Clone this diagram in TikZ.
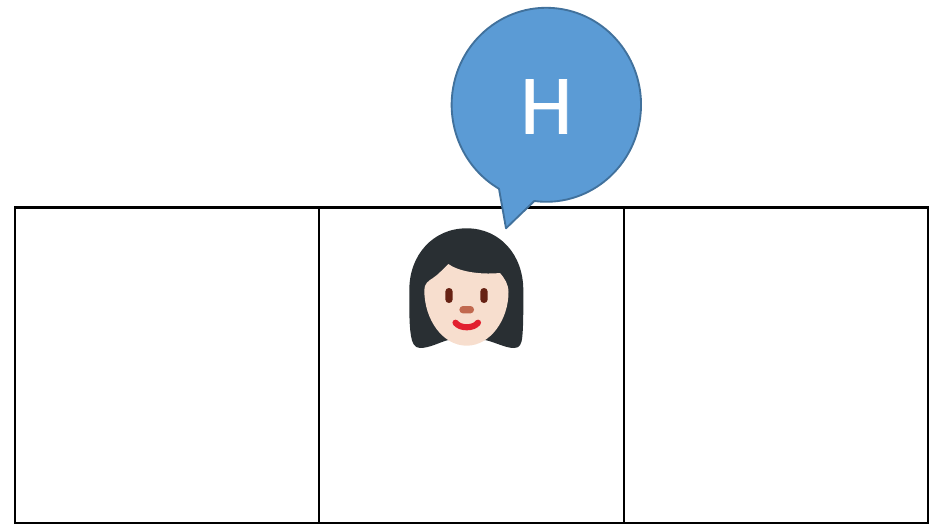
\documentclass[tikz,border=0pt]{standalone}
\usepackage{fontspec}
\newfontfamily\bubblefont{Carlito}[FakeBold=0.8]
\definecolor{bubblefill}{HTML}{5B9BD5}
\definecolor{bubbleline}{HTML}{41719C}
\definecolor{hair}{HTML}{292F33}
\definecolor{skin}{HTML}{F7DECE}
\definecolor{eye}{HTML}{662113}
\definecolor{nose}{HTML}{C1694F}
\definecolor{mouth}{HTML}{E2202F}
\begin{document}
\begin{tikzpicture}[x=.75pt,y=.75pt,line width=1.6pt]
\useasboundingbox (0,-524) rectangle (939,0);
% cells
\coordinate (A) at (15.2,-207.5); \coordinate (B) at (928.2,-523);
\draw (A) rectangle (B);
\foreach \x in {319.2,623.7} \draw (\x,-207.5)--(\x,-523);
% speech bubble
\draw[fill=bubblefill,draw=bubbleline,line width=1.4pt,line join=round] (534.3,-201) arc[start angle=-97.3,end angle=240,x radius=94.7,y radius=97]--(506,-228.3)--cycle;
\node[white,font=\bubblefont\fontsize{63}{63}\selectfont,inner sep=0pt] (H) at (546.3,-106.5) {H};
% head
\fill[hair] (466.7,-228.3) .. controls (500,-228.3) and (523.3,-255) .. (523.3,-290) .. controls (523.3,-305) and (523.5,-325) .. (522.3,-336.7) .. controls (521.5,-344) and (520,-348) .. (514,-348) .. controls (505,-348) and (495,-342) .. (485,-340)--(448.3,-340) .. controls (440,-342) and (430,-348) .. (420,-348) .. controls (414,-348) and (412,-342) .. (411,-336) .. controls (409,-325) and (409.3,-305) .. (409.3,-290) .. controls (409.3,-255) and (433,-228.3) .. (466.7,-228.3)--cycle;
\fill[skin] (448.3,-264) .. controls (458,-271) and (478,-275) .. (500,-273) .. controls (505,-279) and (508.3,-284) .. (508.5,-292) .. controls (508.5,-320) and (490,-345.7) .. (466.7,-345.7) .. controls (443,-345.7) and (424.3,-320) .. (424.3,-290) .. controls (424.3,-284) and (428,-281) .. (433,-278) .. controls (439,-274) and (444,-268) .. (448.3,-264)--cycle;
\foreach \x in {449,484} \fill[eye,rounded corners=2.7pt] (\x-3.7,-288) rectangle (\x+3.7,-303);
\fill[nose,rounded corners=2.7pt] (459.4,-306) rectangle (474,-313.4);
\draw[mouth,line width=4.6pt,line cap=round] (455.5,-322.7) .. controls (460,-328.8) and (473.5,-328.8) .. (478,-322.7);
\end{tikzpicture}
\end{document}
